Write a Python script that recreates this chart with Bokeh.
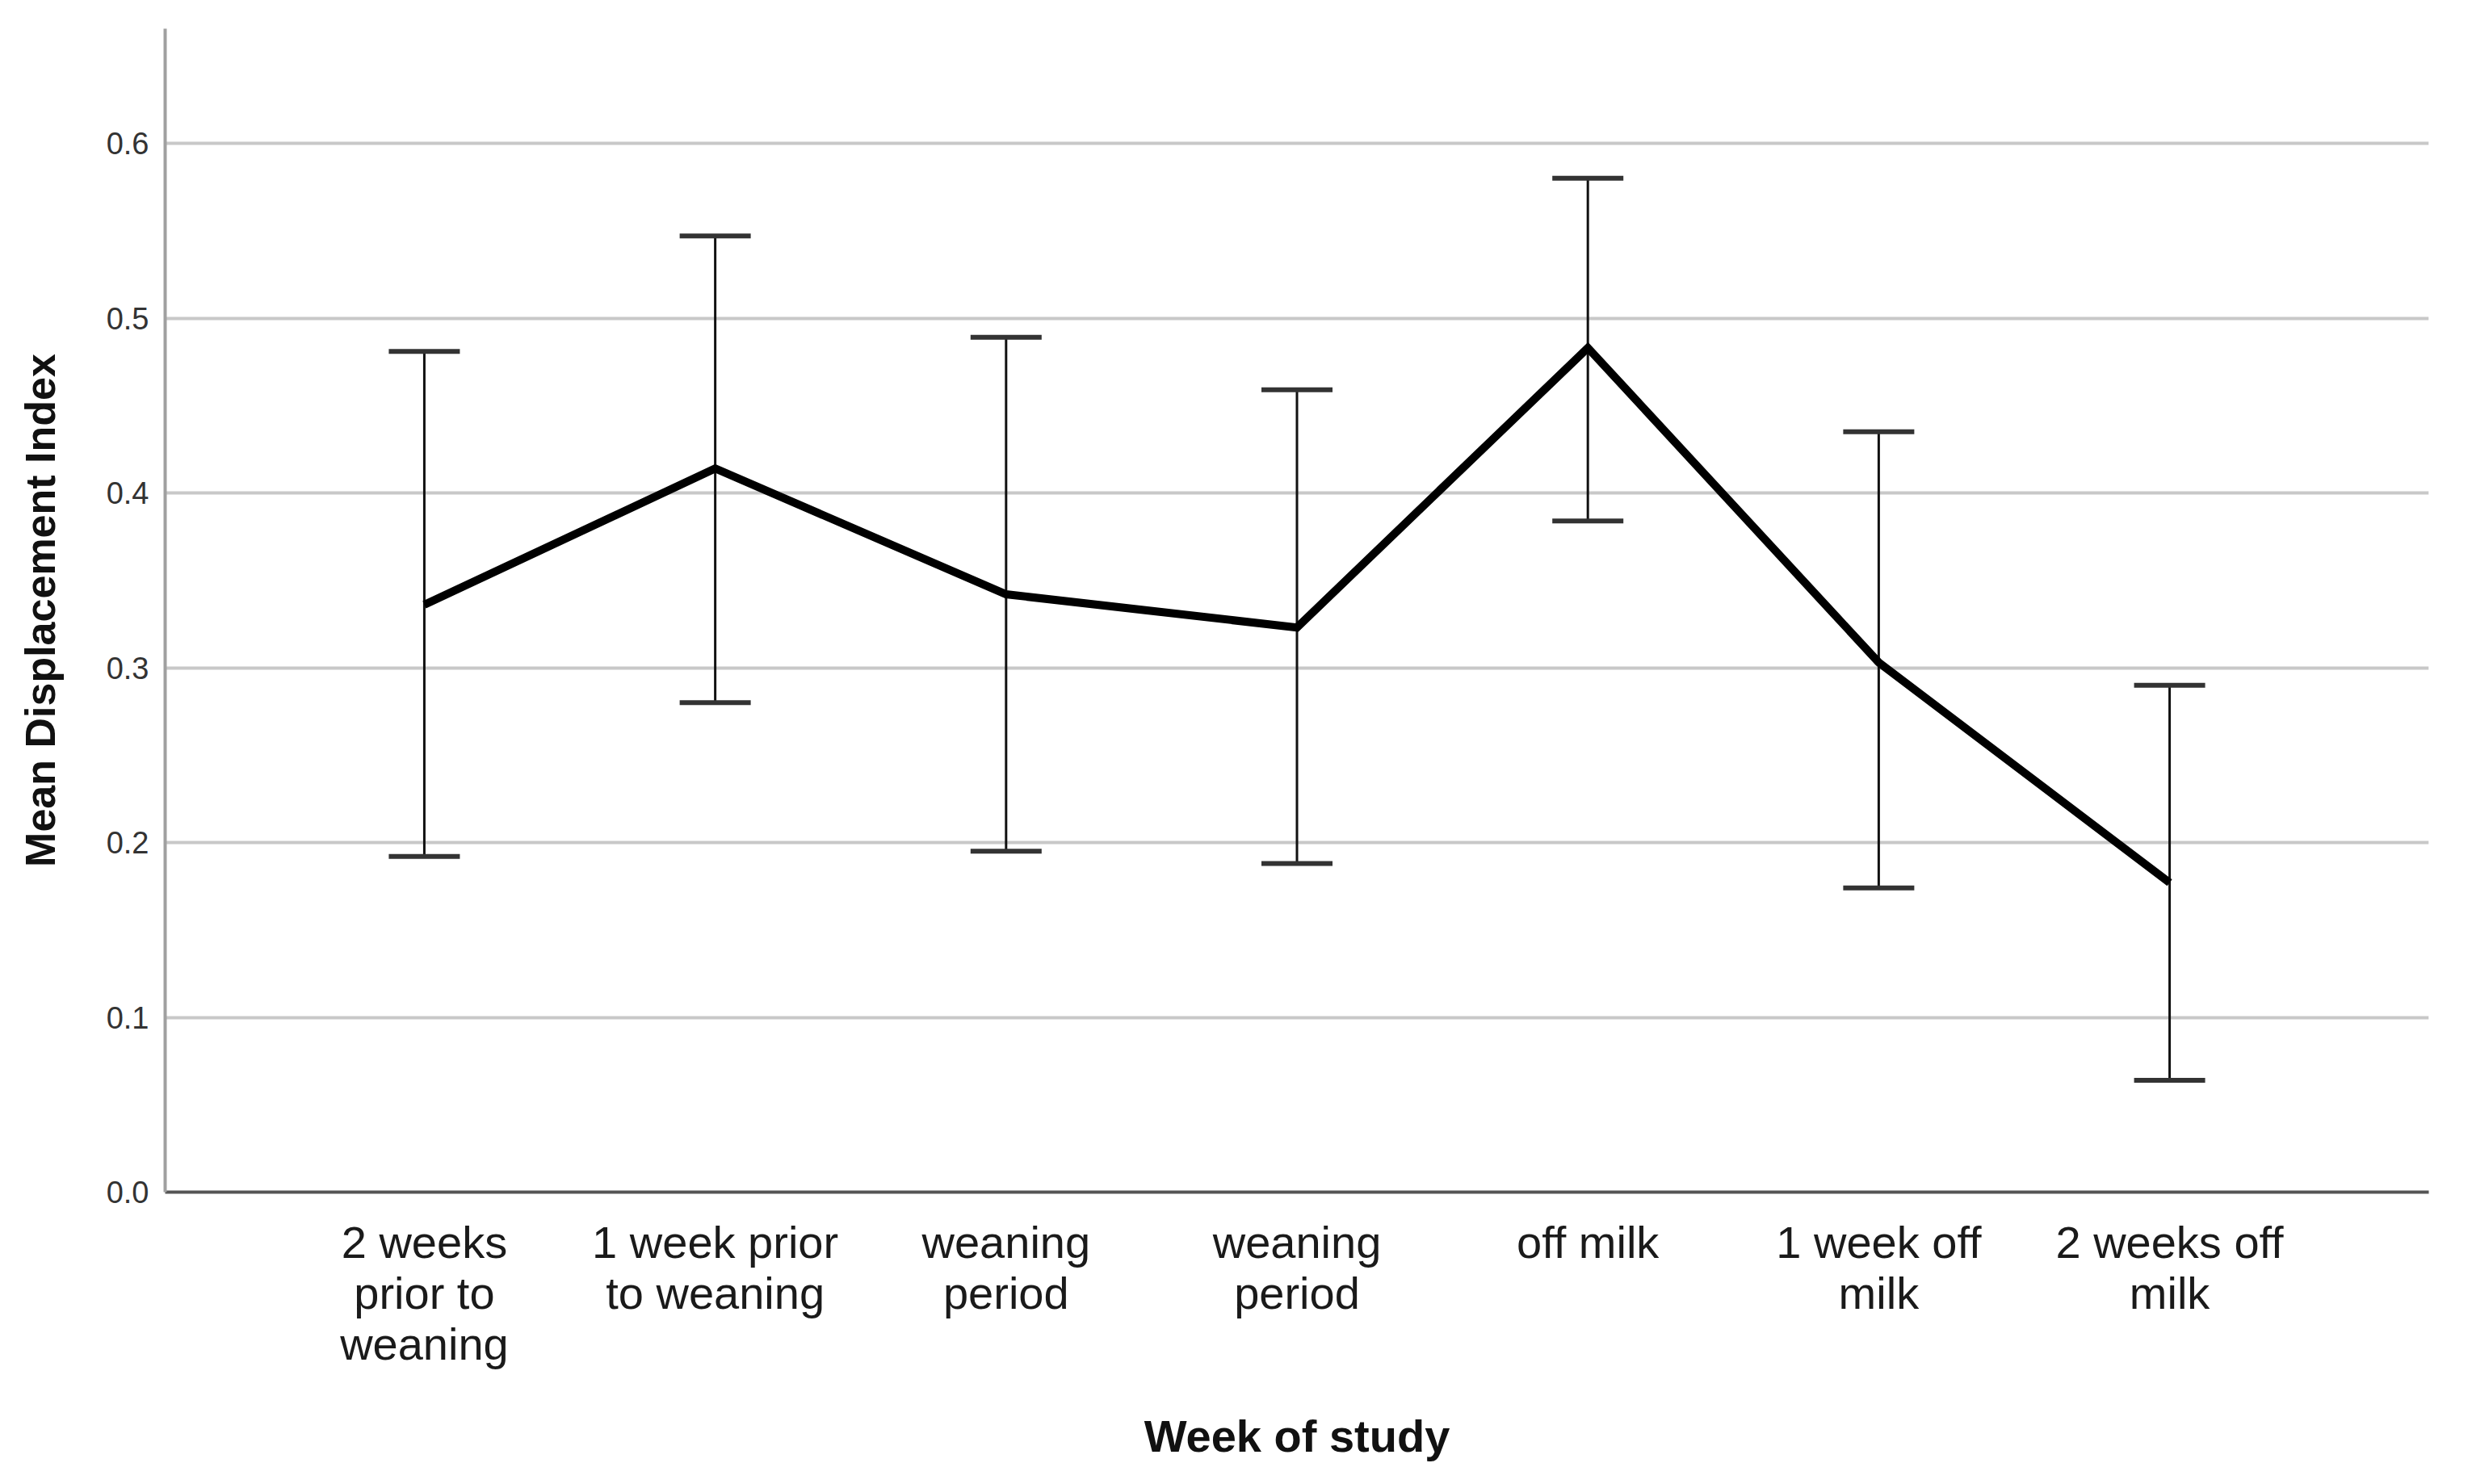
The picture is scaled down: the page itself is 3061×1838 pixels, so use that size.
from bokeh.plotting import figure
from bokeh.models import FixedTicker, Whisker, TeeHead, ColumnDataSource, Range1d
from bokeh.embed import file_html
from bokeh.resources import INLINE

categories = ["2 weeks\nprior to\nweaning", "1 week prior\nto weaning", "weaning\nperiod",
              "weaning\nperiod", "off milk", "1 week off\nmilk", "2 weeks off\nmilk"]
mean_index = [0.336, 0.414, 0.342, 0.323, 0.483, 0.303, 0.177]
upper_ci = [0.481, 0.547, 0.489, 0.459, 0.580, 0.435, 0.290]
lower_ci = [0.192, 0.280, 0.195, 0.188, 0.384, 0.174, 0.064]
y_ticks = [0.0, 0.1, 0.2, 0.3, 0.4, 0.5, 0.6]

xs = list(range(1, len(categories) + 1))
src = ColumnDataSource(dict(x=xs, mean=mean_index, upper=upper_ci, lower=lower_ci))

FONT = "Liberation Sans"

x_range = Range1d(0.109, 7.891)
y_range = Range1d(0, 0.6656)
p = figure(width=3045, height=1822, output_backend="svg", toolbar_location=None,
           x_range=x_range, y_range=y_range,
           min_border_left=204, min_border_right=38, min_border_top=35, min_border_bottom=346)
p.outline_line_color = None
p.background_fill_color = "white"
p.border_fill_color = "white"

# grid
p.xgrid.grid_line_color = None
p.ygrid.grid_line_color = "#c8c8c8"
p.ygrid.grid_line_width = 4

# axes
p.xaxis.ticker = FixedTicker(ticks=xs)
p.xaxis.major_label_overrides = {x: c for x, c in zip(xs, categories)}
p.yaxis.ticker = FixedTicker(ticks=y_ticks)
p.yaxis.major_label_overrides = {v: f"{v:.1f}" for v in y_ticks}

for ax in (p.xaxis[0], p.yaxis[0]):
    ax.major_tick_line_color = None
    ax.minor_tick_line_color = None
    ax.major_tick_out = 0
    ax.major_tick_in = 0
    ax.major_label_text_font = FONT
    ax.axis_label_text_font = FONT
    ax.axis_label_text_font_style = "bold"
    ax.axis_label_text_color = "#111111"

p.xaxis.axis_line_color = "#555555"
p.xaxis.axis_line_width = 4
p.yaxis.axis_line_color = "#a0a0a0"
p.yaxis.axis_line_width = 4

p.xaxis.major_label_text_font_size = "56px"
p.xaxis.major_label_text_color = "#1a1a1a"
p.xaxis.major_label_text_line_height = 1.0
p.xaxis.major_label_standoff = 30
p.xaxis.axis_label = "Week of study"
p.xaxis.axis_label_text_font_size = "56px"
p.xaxis.axis_label_standoff = 48

p.yaxis.major_label_text_font_size = "38px"
p.yaxis.major_label_text_color = "#333333"
p.yaxis.major_label_standoff = 20
p.yaxis.axis_label = "Mean Displacement Index"
p.yaxis.axis_label_text_font_size = "52px"
p.yaxis.axis_label_standoff = 50

# error bars
w = Whisker(source=src, base="x", upper="upper", lower="lower",
            line_color="#111111", line_width=3,
            upper_head=TeeHead(size=88, line_width=6, line_color="#333333"),
            lower_head=TeeHead(size=88, line_width=6, line_color="#333333"))
p.add_layout(w)

# mean line
p.line("x", "mean", source=src, line_color="black", line_width=10, line_join="miter")

open("out.html", "w").write(file_html(p, INLINE))
